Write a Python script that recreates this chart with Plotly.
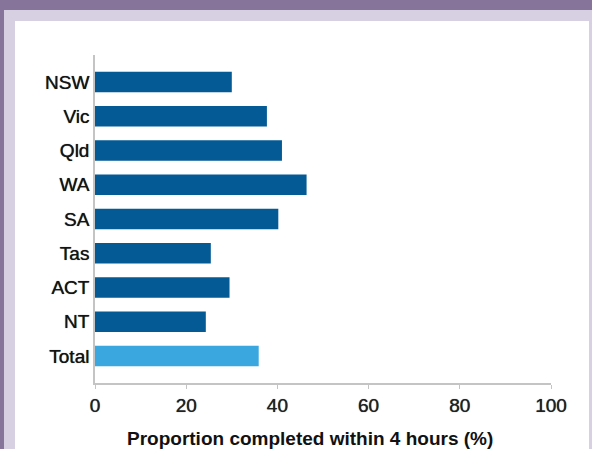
import plotly.graph_objects as go

# Proportion of cases completed within 4 hours, by jurisdiction
categories = ["NSW", "Vic", "Qld", "WA", "SA", "Tas", "ACT", "NT", "Total"]
values = [30.0, 37.7, 41.0, 46.4, 40.2, 25.4, 29.5, 24.3, 35.9]
x_ticks = [0, 20, 40, 60, 80, 100]
x_title = "Proportion completed within 4 hours (%)"

DARK_BLUE = "#045a95"
LIGHT_BLUE = "#3aa8de"
PURPLE = "#86749b"
LAVENDER = "#d6d0e2"
LABEL_SHADOW = "0px 0px 0.7px #222"

W, H = 592, 449
L, R, T, B = 95, 41, 55, 66
PW, PH = W - L - R, H - T - B


def px_x(px):
    return (px - L) / PW


def px_y(py):
    return (H - B - py) / PH


bar_colors = [LIGHT_BLUE if c == "Total" else DARK_BLUE for c in categories]

fig = go.Figure(
    go.Bar(
        x=values,
        y=categories,
        orientation="h",
        marker=dict(color=bar_colors, line=dict(width=0)),
        width=0.6,
        hoverinfo="x+y",
    )
)

# Framed panel: purple outer edge, lavender border, white card
shapes = [
    dict(type="rect", xref="paper", yref="paper", layer="below",
         x0=px_x(-5), x1=px_x(W + 5), y0=px_y(10), y1=px_y(-5),
         fillcolor=PURPLE, line=dict(width=0)),
    dict(type="rect", xref="paper", yref="paper", layer="below",
         x0=px_x(-5), x1=px_x(4), y0=px_y(H + 5), y1=px_y(-5),
         fillcolor=PURPLE, line=dict(width=0)),
    dict(type="rect", xref="paper", yref="paper", layer="below",
         x0=px_x(15), x1=px_x(589), y0=px_y(H + 5), y1=px_y(21),
         fillcolor="white", line=dict(width=0)),
]

# x-axis title, set slightly left of the plot centre
annotations = [
    dict(text="<b>" + x_title + "</b>", xref="paper", yref="paper",
         x=px_x(310), y=px_y(438), xanchor="center", yanchor="middle",
         showarrow=False, font=dict(size=19, color="#111111")),
]

fig.update_layout(
    width=W,
    height=H,
    margin=dict(l=L, r=R, t=T, b=B, pad=0),
    paper_bgcolor=LAVENDER,
    plot_bgcolor="rgba(0,0,0,0)",
    font=dict(family="Arial, Liberation Sans, sans-serif", color="#1c1c1c", size=19),
    showlegend=False,
    shapes=shapes,
    annotations=annotations,
    xaxis=dict(
        range=[0, 100],
        tickvals=x_ticks,
        ticktext=[str(v) for v in x_ticks],
        showgrid=False,
        zeroline=False,
        showline=True,
        linecolor="#c4c4c4",
        linewidth=1.5,
        ticks="outside",
        ticklen=4,
        tickcolor="#c4c4c4",
        tickfont=dict(size=19, color="#222222", shadow=LABEL_SHADOW),
        automargin=False,
        fixedrange=True,
    ),
    yaxis=dict(
        type="category",
        categoryorder="array",
        categoryarray=categories,
        range=[len(categories) - 1 + 0.79, -0.79],
        showgrid=False,
        zeroline=False,
        showline=True,
        linecolor="#c4c4c4",
        linewidth=1.5,
        ticks="",
        ticklabelstandoff=0,
        tickfont=dict(size=19, color="#141414", shadow=LABEL_SHADOW),
        automargin=False,
        fixedrange=True,
    ),
)

fig.write_html("out.html")
